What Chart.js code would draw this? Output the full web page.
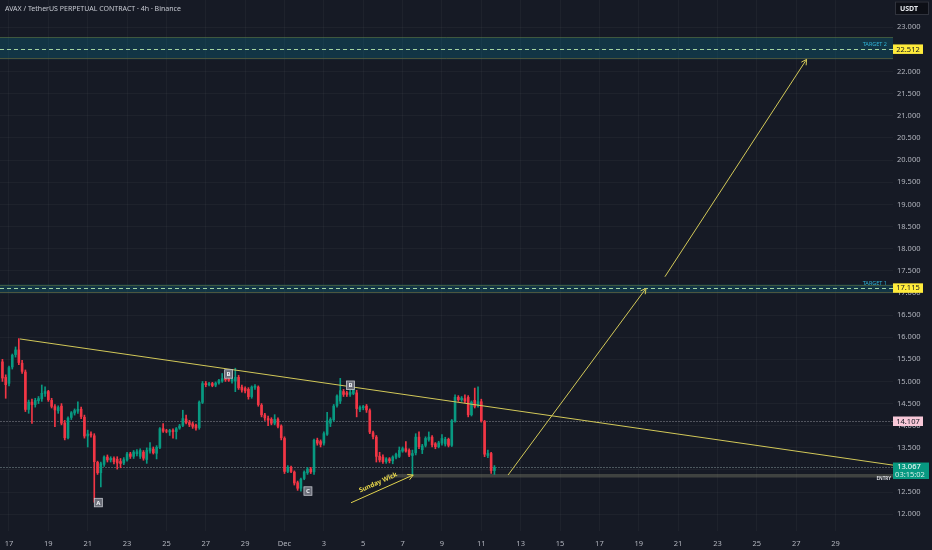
<!DOCTYPE html>
<html>
<head>
<meta charset="utf-8">
<title>AVAX / TetherUS 4h</title>
<script src="https://cdn.jsdelivr.net/npm/chart.js@4.4.1/dist/chart.umd.min.js"></script>
<style>
  html, body { margin: 0; padding: 0; background: #161a25; }
  #wrap { width: 932px; height: 550px; position: relative; }
</style>
</head>
<body>
<div id="wrap"><canvas id="avaxChart"></canvas></div>
<script>
// 4h candles. Bar index is counted from Nov 17 00:00, first bar is Nov 16 16:00
const firstBar = -2;
const opens = [
  15.45, 15.10, 14.95, 15.32, 15.60, 15.72, 15.42, 15.22, 14.36, 14.54,
  14.47, 14.56, 14.60, 14.72, 14.78, 14.58, 14.44, 14.33, 14.45, 14.07,
  13.72, 14.18, 14.28, 14.32, 14.38, 14.20, 13.76, 13.82, 13.78, 13.18,
  12.93, 13.12, 13.30, 13.22, 13.27, 13.25, 13.20, 13.15, 13.22, 13.37,
  13.30, 13.36, 13.30, 13.41, 13.23, 13.42, 13.48, 13.37, 13.50, 13.94,
  13.88, 13.85, 13.90, 13.86, 13.94, 14.00, 14.16, 14.08, 14.05, 14.02,
  13.95, 14.52, 14.96, 14.92, 14.96, 14.91, 14.96, 15.00, 15.07, 15.06,
  15.00, 15.00, 15.10, 14.88, 14.85, 14.83, 14.65, 14.86, 14.88, 14.47,
  14.25, 14.17, 14.15, 14.05, 14.15, 14.00, 13.72, 12.96, 13.07, 12.96,
  12.72, 12.58, 12.80, 12.93, 13.03, 12.95, 13.68, 13.65, 13.60, 13.80,
  14.05, 14.13, 14.45, 14.55, 14.78, 14.75, 14.70, 14.72, 14.75, 14.36,
  14.40, 14.45, 14.35, 13.85, 13.75, 13.32, 13.30, 13.18, 13.26, 13.20,
  13.28, 13.30, 13.42, 13.49, 13.45, 13.32, 13.38, 13.75, 13.45, 13.55,
  13.68, 13.75, 13.60, 13.52, 13.60, 13.58, 13.70, 13.55, 14.10, 14.65,
  14.58, 14.62, 14.65, 14.24, 14.58, 14.45, 14.55, 14.10, 13.32, 13.38,
  12.98
];
const highs = [
  15.50, 15.15, 15.35, 15.62, 15.78, 15.97, 15.48, 15.26, 14.58, 14.60,
  14.62, 14.66, 14.92, 14.88, 14.80, 14.62, 14.48, 14.45, 14.50, 14.12,
  14.20, 14.32, 14.38, 14.54, 14.42, 14.24, 13.90, 13.86, 13.82, 13.20,
  13.18, 13.32, 13.34, 13.30, 13.30, 13.30, 13.26, 13.28, 13.40, 13.40,
  13.44, 13.46, 13.48, 13.44, 13.50, 13.62, 13.52, 13.55, 13.96, 14.05,
  13.92, 13.92, 13.93, 13.96, 14.03, 14.35, 14.24, 14.12, 14.08, 14.04,
  14.56, 15.00, 15.00, 14.98, 14.98, 14.99, 15.05, 15.18, 15.10, 15.23,
  15.10, 15.30, 15.14, 14.92, 14.88, 14.86, 14.90, 14.93, 14.90, 14.50,
  14.28, 14.22, 14.18, 14.25, 14.18, 14.02, 13.75, 13.10, 13.09, 12.98,
  12.75, 12.82, 12.98, 13.06, 13.06, 13.70, 13.72, 13.68, 13.86, 14.30,
  14.18, 14.48, 14.70, 15.07, 14.82, 14.78, 14.80, 14.90, 14.80, 14.45,
  14.46, 14.48, 14.38, 13.88, 13.78, 13.40, 13.34, 13.28, 13.28, 13.32,
  13.38, 13.52, 13.52, 13.64, 13.48, 13.45, 13.82, 13.86, 13.58, 13.75,
  13.86, 13.78, 13.62, 13.65, 13.80, 13.74, 13.72, 14.14, 14.70, 14.68,
  14.66, 14.70, 14.68, 14.56, 14.85, 14.88, 14.60, 14.12, 13.45, 13.40,
  13.10
];
const lows = [
  15.00, 14.62, 14.90, 15.28, 15.55, 15.38, 15.18, 14.32, 14.28, 14.05,
  14.42, 14.50, 14.55, 14.66, 14.55, 14.40, 13.98, 14.28, 14.02, 13.68,
  13.70, 14.14, 14.24, 14.28, 14.16, 13.72, 13.52, 13.74, 12.27, 12.90,
  12.62, 13.08, 13.18, 13.18, 13.14, 13.02, 13.05, 13.12, 13.20, 13.26,
  13.26, 13.32, 13.26, 13.22, 13.15, 13.38, 13.36, 13.25, 13.48, 13.85,
  13.84, 13.78, 13.72, 13.70, 13.92, 13.98, 14.04, 13.98, 13.94, 13.90,
  13.92, 14.50, 14.88, 14.90, 14.88, 14.88, 14.94, 14.98, 15.00, 15.00,
  14.96, 14.77, 14.82, 14.76, 14.74, 14.60, 14.62, 14.82, 14.44, 14.20,
  14.12, 14.00, 14.02, 14.02, 13.95, 13.68, 12.92, 12.94, 12.94, 12.66,
  12.54, 12.52, 12.78, 12.90, 12.92, 12.90, 13.56, 13.52, 13.56, 13.78,
  13.98, 14.10, 14.42, 14.50, 14.66, 14.66, 14.66, 14.70, 14.20, 14.32,
  14.36, 14.30, 13.82, 13.70, 13.18, 13.18, 13.15, 13.15, 13.16, 13.14,
  13.25, 13.28, 13.40, 13.40, 13.30, 12.88, 13.34, 13.48, 13.37, 13.52,
  13.65, 13.52, 13.48, 13.50, 13.56, 13.54, 13.52, 13.53, 14.08, 14.55,
  14.55, 14.52, 14.20, 14.22, 14.40, 14.42, 14.08, 13.30, 13.28, 12.92,
  12.90
];
const closes = [
  15.07, 14.92, 15.32, 15.60, 15.72, 15.42, 15.22, 14.36, 14.54, 14.47,
  14.58, 14.62, 14.74, 14.78, 14.58, 14.43, 14.35, 14.42, 14.05, 13.72,
  14.18, 14.30, 14.35, 14.38, 14.20, 13.76, 13.82, 13.78, 13.18, 12.93,
  13.15, 13.30, 13.22, 13.27, 13.18, 13.15, 13.14, 13.24, 13.37, 13.30,
  13.41, 13.42, 13.45, 13.26, 13.45, 13.50, 13.38, 13.52, 13.94, 13.87,
  13.87, 13.90, 13.86, 13.94, 14.00, 14.17, 14.06, 14.02, 13.98, 13.94,
  14.54, 14.96, 14.92, 14.96, 14.90, 14.97, 15.03, 15.07, 15.03, 15.02,
  15.06, 15.10, 14.85, 14.80, 14.78, 14.65, 14.88, 14.90, 14.47, 14.24,
  14.17, 14.12, 14.05, 14.15, 13.98, 13.72, 12.96, 13.07, 12.96, 12.70,
  12.58, 12.80, 12.96, 13.03, 12.95, 13.68, 13.60, 13.57, 13.83, 14.12,
  14.15, 14.45, 14.68, 14.80, 14.70, 14.70, 14.76, 14.84, 14.38, 14.42,
  14.44, 14.35, 13.85, 13.75, 13.30, 13.22, 13.18, 13.26, 13.20, 13.30,
  13.36, 13.45, 13.49, 13.42, 13.33, 13.38, 13.75, 13.52, 13.55, 13.72,
  13.75, 13.56, 13.52, 13.62, 13.72, 13.70, 13.55, 14.12, 14.65, 14.58,
  14.63, 14.55, 14.24, 14.54, 14.43, 14.55, 14.10, 13.35, 13.38, 12.98,
  13.067
];

// time axis in days from Nov 17
const dayTicks = [0, 2, 4, 6, 8, 10, 12, 14, 16, 18, 20, 22, 24, 26, 28, 30, 32, 34, 36, 38, 40, 42];
const dayTickLabels = ['17', '19', '21', '23', '25', '27', '29', 'Dec', '3', '5', '7', '9', '11',
  '13', '15', '17', '19', '21', '23', '25', '27', '29'];
const priceTicks = [12, 12.5, 13, 13.5, 14, 14.5, 15, 15.5, 16, 16.5, 17, 17.5, 18, 18.5,
  19, 19.5, 20, 20.5, 21, 21.5, 22, 22.5, 23];

// drawings: [day, price]
const trendLine = [[0.56, 15.96], [44.92, 13.11]];
const arrowToTarget1 = [[25.36, 12.887], [32.37, 17.104]];
const arrowToTarget2 = [[33.33, 17.366], [40.53, 22.277]];
const sundayWickArrow = [[17.38, 12.26], [20.54, 12.887]];
const target2Zone = [22.277, 22.512, 22.78];   // low, line, high
const target1Zone = [16.99, 17.115, 17.19];
const entryZone = [19.2, 12.83, 12.91];        // start day, low, high
const waveLabels = ['A', 'B', 'B', 'C'];
const waveDays = [4.54, 11.16, 17.35, 15.19];
const wavePrices = [12.27, 15.175, 14.92, 12.53];
const lastPrice = 13.067;
const markPrice = 14.107;

const UP = '#089981';
const DOWN = '#f23645';
const BG = '#161a25';
const DRAW = '#d2c858';
const FONT = '"Noto Sans", sans-serif';

const barDay = k => (firstBar + k) / 6;
const candleColors = opens.map((o, k) => closes[k] >= o ? UP : DOWN);
const wickPoints = lows.map((l, k) => ({x: barDay(k), y: [l, highs[k]]}));
const bodyPoints = opens.map((o, k) => ({x: barDay(k), y: [o, closes[k]]}));
const toXY = seg => seg.map(p => ({x: p[0], y: p[1]}));

function hLine(ctx, x1, x2, y, color, dash) {
    ctx.save();
    ctx.strokeStyle = color;
    ctx.lineWidth = 1;
    ctx.setLineDash(dash || []);
    ctx.beginPath();
    ctx.moveTo(x1, Math.round(y) + 0.5);
    ctx.lineTo(x2, Math.round(y) + 0.5);
    ctx.stroke();
    ctx.restore();
}

function priceTag(ctx, x, y, text, bg, fg) {
    ctx.fillStyle = bg;
    ctx.fillRect(x, y - 4.5, 30, 9.5);
    ctx.fillStyle = fg;
    ctx.font = '7.5px ' + FONT;
    ctx.textAlign = 'center';
    ctx.textBaseline = 'middle';
    ctx.fillText(text, x + 15, y + 0.5);
}

const overlay = {
    id: 'overlay',
    beforeDraw(chart) {
        const ctx = chart.ctx;
        ctx.save();
        ctx.fillStyle = BG;
        ctx.fillRect(0, 0, chart.width, chart.height);
        ctx.restore();
    },
    beforeDatasetsDraw(chart) {
        const {ctx, chartArea: a, scales: {x, y}} = chart;
        ctx.save();
        ctx.beginPath();
        ctx.rect(a.left, a.top, a.right - a.left, a.bottom - a.top);
        ctx.clip();

        [target2Zone, target1Zone].forEach(z => {
            const top = y.getPixelForValue(z[2]);
            const bot = y.getPixelForValue(z[0]);
            ctx.fillStyle = 'rgba(10, 115, 145, 0.30)';
            ctx.fillRect(a.left, top, a.right - a.left, bot - top);
            hLine(ctx, a.left, a.right, top, 'rgba(110, 125, 60, 0.5)');
            hLine(ctx, a.left, a.right, bot - 1, 'rgba(120, 110, 55, 0.55)');
            hLine(ctx, a.left, a.right, y.getPixelForValue(z[1]), '#a3d2a0', [4, 3]);
        });

        hLine(ctx, a.left, a.right, y.getPixelForValue(markPrice), 'rgba(150, 152, 162, 0.45)', [2, 1]);
        hLine(ctx, a.left, a.right, y.getPixelForValue(lastPrice), 'rgba(115, 130, 135, 0.6)', [2, 1]);

        const ex = x.getPixelForValue(entryZone[0]);
        const et = y.getPixelForValue(entryZone[2]);
        const eb = y.getPixelForValue(entryZone[1]);
        ctx.fillStyle = 'rgba(125, 128, 105, 0.4)';
        ctx.fillRect(ex, et, a.right - ex, eb - et);
        ctx.restore();
    },
    afterDatasetsDraw(chart) {
        const {ctx, chartArea: a, scales: {x, y}} = chart;
        ctx.save();

        // arrow heads
        chart.data.datasets.forEach((ds, i) => {
            if (!ds.arrowHead) return;
            const pts = chart.getDatasetMeta(i).data;
            const p0 = pts[0], p1 = pts[pts.length - 1];
            const ang = Math.atan2(p1.y - p0.y, p1.x - p0.x);
            ctx.strokeStyle = ds.borderColor;
            ctx.lineWidth = 1;
            ctx.beginPath();
            ctx.moveTo(p1.x - 6 * Math.cos(ang - 0.5), p1.y - 6 * Math.sin(ang - 0.5));
            ctx.lineTo(p1.x, p1.y);
            ctx.lineTo(p1.x - 6 * Math.cos(ang + 0.5), p1.y - 6 * Math.sin(ang + 0.5));
            ctx.stroke();
        });

        // "Sunday Wick" text along its arrow
        const s0x = x.getPixelForValue(sundayWickArrow[0][0]), s0y = y.getPixelForValue(sundayWickArrow[0][1]);
        const s1x = x.getPixelForValue(sundayWickArrow[1][0]), s1y = y.getPixelForValue(sundayWickArrow[1][1]);
        const sang = Math.atan2(s1y - s0y, s1x - s0x);
        ctx.save();
        ctx.translate((s0x + s1x) / 2 - 2, (s0y + s1y) / 2 - 2);
        ctx.rotate(sang);
        ctx.fillStyle = '#ead94c';
        ctx.font = 'bold 6.5px ' + FONT;
        ctx.textAlign = 'center';
        ctx.textBaseline = 'bottom';
        ctx.fillText('Sunday Wick', 0, -1.5);
        ctx.restore();

        // A / B / C markers
        waveLabels.forEach((lbl, k) => {
            const px = x.getPixelForValue(waveDays[k]);
            const py = y.getPixelForValue(wavePrices[k]);
            ctx.fillStyle = '#6a6d78';
            ctx.fillRect(px - 4, py - 4, 8, 8.5);
            ctx.strokeStyle = '#c3c5cc';
            ctx.lineWidth = 0.8;
            ctx.strokeRect(px - 4, py - 4, 8, 8.5);
            ctx.fillStyle = '#eceef2';
            ctx.font = 'bold 6px ' + FONT;
            ctx.textAlign = 'center';
            ctx.textBaseline = 'middle';
            ctx.fillText(lbl, px, py + 0.5);
        });

        // zone captions
        ctx.font = '5.5px ' + FONT;
        ctx.textAlign = 'right';
        ctx.textBaseline = 'bottom';
        ctx.fillStyle = '#2fb3d6';
        ctx.fillText('TARGET 2', a.right - 6, y.getPixelForValue(target2Zone[1]) - 1.5);
        ctx.fillText('TARGET 1', a.right - 6, y.getPixelForValue(target1Zone[1]) - 1.5);
        ctx.fillStyle = '#d8dade';
        ctx.font = 'bold 4.5px ' + FONT;
        ctx.textBaseline = 'top';
        ctx.fillText('ENTRY', a.right - 2, y.getPixelForValue(entryZone[2]) + 2);
        ctx.restore();
    },
    afterDraw(chart) {
        const {ctx, chartArea: a, scales: {y}} = chart;
        ctx.save();
        const ax = a.right;
        priceTag(ctx, ax, y.getPixelForValue(target2Zone[1]), '22.512', '#ffeb3b', '#131722');
        priceTag(ctx, ax, y.getPixelForValue(target1Zone[1]), '17.115', '#ffeb3b', '#131722');
        priceTag(ctx, ax, y.getPixelForValue(markPrice), '14.107', '#f8c8d8', '#131722');

        const ly = y.getPixelForValue(lastPrice);
        ctx.fillStyle = UP;
        ctx.fillRect(ax, ly - 4.5, 36, 16.5);
        ctx.fillStyle = '#ffffff';
        ctx.font = '7.5px ' + FONT;
        ctx.textAlign = 'center';
        ctx.textBaseline = 'middle';
        ctx.fillText('13.067', ax + 16, ly);
        ctx.fillStyle = '#d5efe9';
        ctx.fillText('03:15:02', ax + 17, ly + 7.5);

        // currency box
        ctx.fillStyle = '#0d0f16';
        ctx.fillRect(ax + 2, 1.5, 34, 13);
        ctx.strokeStyle = '#30333d';
        ctx.lineWidth = 1;
        ctx.strokeRect(ax + 2.5, 2, 33, 12.5);
        ctx.fillStyle = '#e6e8ec';
        ctx.font = 'bold 7px ' + FONT;
        ctx.fillText('USDT', ax + 16, 8.5);

        // title
        ctx.fillStyle = '#c5c8d0';
        ctx.font = '7px ' + FONT;
        ctx.textAlign = 'left';
        ctx.fillText('AVAX / TetherUS PERPETUAL CONTRACT · 4h · Binance', 5, 8.5);
        ctx.restore();
    }
};

const lineStyle = {
    type: 'line',
    borderWidth: 1,
    pointRadius: 0,
    tension: 0,
    fill: false,
    order: 0
};

new Chart(document.getElementById('avaxChart'), {
    type: 'bar',
    data: {
        datasets: [
            Object.assign({}, lineStyle, {label: 'Trend', data: toXY(trendLine), borderColor: DRAW}),
            Object.assign({}, lineStyle, {label: 'To target 1', data: toXY(arrowToTarget1), borderColor: DRAW, arrowHead: true}),
            Object.assign({}, lineStyle, {label: 'To target 2', data: toXY(arrowToTarget2), borderColor: DRAW, arrowHead: true}),
            Object.assign({}, lineStyle, {label: 'Sunday wick', data: toXY(sundayWickArrow), borderColor: '#e0d24e', arrowHead: true}),
            {
                label: 'Bodies',
                data: bodyPoints,
                backgroundColor: candleColors,
                grouped: false,
                categoryPercentage: 1,
                barPercentage: 0.8,
                minBarLength: 1,
                borderWidth: 0,
                order: 1
            },
            {
                label: 'Wicks',
                data: wickPoints,
                backgroundColor: candleColors,
                grouped: false,
                categoryPercentage: 1,
                barPercentage: 1,
                maxBarThickness: 1,
                borderWidth: 0,
                order: 2
            }
        ]
    },
    options: {
        responsive: true,
        maintainAspectRatio: false,
        animation: false,
        layout: { padding: 0 },
        plugins: {
            legend: { display: false },
            tooltip: { enabled: false }
        },
        scales: {
            x: {
                type: 'linear',
                min: -0.457,
                max: 44.92,
                offset: false,
                grid: { color: 'rgba(255, 255, 255, 0.035)', drawTicks: false, offset: false },
                border: { display: false },
                afterBuildTicks: s => { s.ticks = dayTicks.map(v => ({value: v})); },
                afterFit: s => { s.height = 19; s.paddingLeft = 0; s.paddingRight = 0; },
                ticks: {
                    autoSkip: false,
                    maxRotation: 0,
                    padding: 8,
                    color: '#b2b5be',
                    font: { family: FONT, size: 7.5 },
                    callback: (v, i) => dayTickLabels[i]
                }
            },
            y: {
                type: 'linear',
                position: 'right',
                min: 11.622,
                max: 23.617,
                grid: { color: 'rgba(255, 255, 255, 0.035)', drawTicks: false },
                border: { display: false },
                afterBuildTicks: s => { s.ticks = priceTicks.map(v => ({value: v})); },
                afterFit: s => { s.width = 39; s.paddingTop = 0; s.paddingBottom = 0; },
                ticks: {
                    padding: 4,
                    color: '#b2b5be',
                    font: { family: FONT, size: 7.5 },
                    callback: v => v.toFixed(3)
                }
            }
        }
    },
    plugins: [overlay]
});
</script>
</body>
</html>
